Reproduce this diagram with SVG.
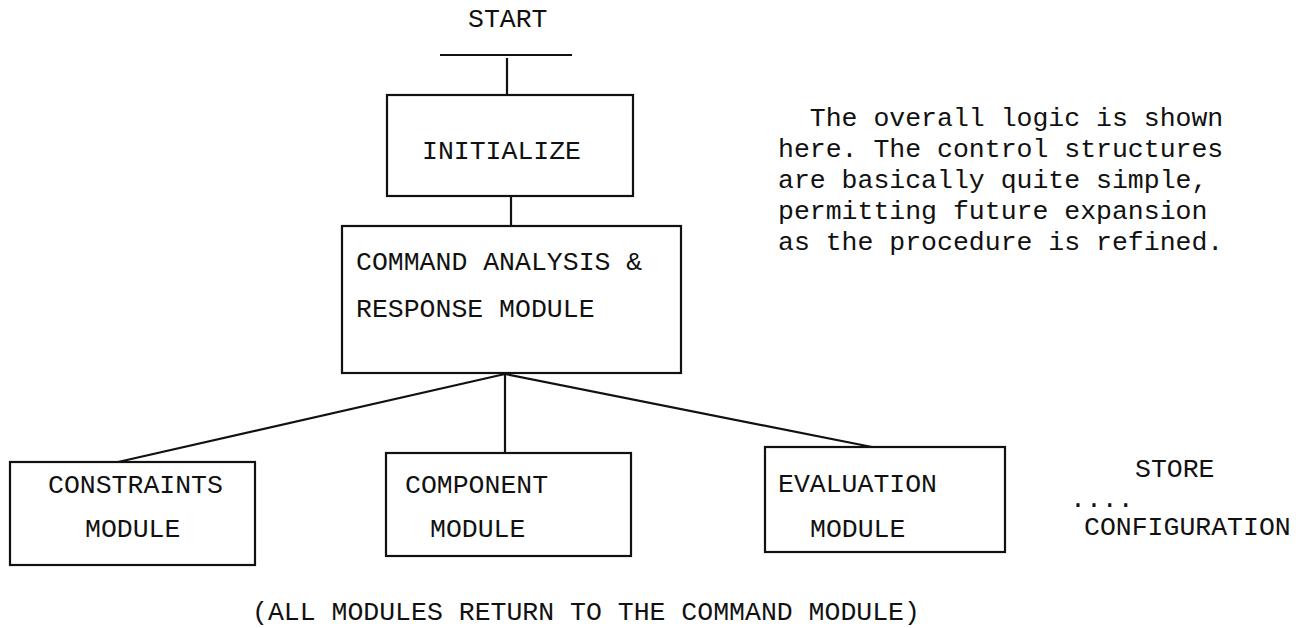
<svg xmlns="http://www.w3.org/2000/svg" width="1315" height="628" viewBox="0 0 1315 628">
<style>
text{font-family:"Liberation Mono","DejaVu Sans Mono",monospace;fill:#111;font-size:26.5px}
.box{fill:#fff;stroke:#111;stroke-width:2.2}
.ln{stroke:#111;stroke-width:2.2;fill:none}
</style>
<rect width="1315" height="628" fill="#fff"/>
<g id="start">
<text x="468" y="27">START</text>
<line class="ln" x1="440" y1="55" x2="572" y2="55" stroke-width="3"/>
</g>
<g id="connectors">
<line class="ln" x1="507" y1="58" x2="507" y2="95"/>
<line class="ln" x1="511" y1="196" x2="511" y2="226"/>
<line class="ln" x1="505" y1="374" x2="118" y2="462"/>
<line class="ln" x1="505" y1="374" x2="505" y2="453"/>
<line class="ln" x1="505" y1="374" x2="872" y2="447"/>
</g>
<g id="initialize">
<rect class="box" x="387" y="95" width="246" height="101"/>
<text x="422" y="159">INITIALIZE</text>
</g>
<g id="command">
<rect class="box" x="342" y="226" width="339" height="147"/>
<text x="356" y="270">COMMAND ANALYSIS &amp;</text>
<text x="356" y="317">RESPONSE MODULE</text>
</g>
<g id="description">
<text x="778" y="126" xml:space="preserve">  The overall logic is shown</text>
<text x="778" y="157">here. The control structures</text>
<text x="778" y="188">are basically quite simple,</text>
<text x="778" y="219">permitting future expansion</text>
<text x="778" y="250">as the procedure is refined.</text>
</g>
<g id="constraints">
<rect class="box" x="10" y="462" width="245" height="103"/>
<text x="48" y="493">CONSTRAINTS</text>
<text x="85" y="537">MODULE</text>
</g>
<g id="component">
<rect class="box" x="386" y="453" width="245" height="103"/>
<text x="405" y="493">COMPONENT</text>
<text x="430" y="537">MODULE</text>
</g>
<g id="evaluation">
<rect class="box" x="765" y="447" width="240" height="105"/>
<text x="778" y="492">EVALUATION</text>
<text x="810" y="537">MODULE</text>
</g>
<g id="store">
<text x="1135" y="477">STORE</text>
<text x="1070" y="507">....</text>
<text x="1084" y="535">CONFIGURATION</text>
</g>
<text x="252" y="620">(ALL MODULES RETURN TO THE COMMAND MODULE)</text>
</svg>
